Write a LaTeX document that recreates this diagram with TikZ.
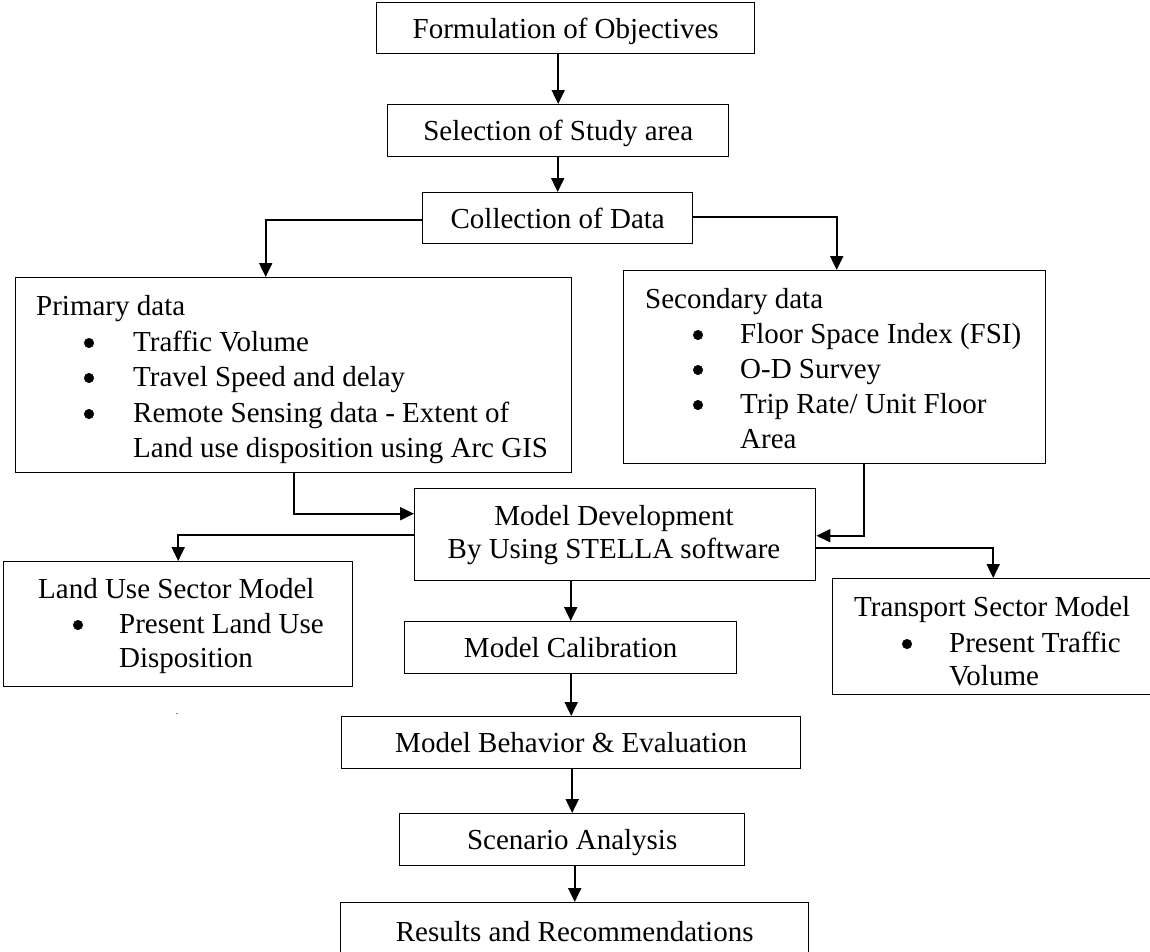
\documentclass[tikz,border=0pt]{standalone}
\usepackage{fontspec}
\setmainfont{Liberation Serif}
\usetikzlibrary{arrows.meta}

% rectangle node from its top-left corner (x1,y1) to its bottom-right corner (x2,y2)
\newcommand{\flowbox}[6]{%
  \node[box, minimum width={#4-#2}, minimum height={#5-#3}] (#1) at (#2,#3) {#6};}

\begin{document}
\begin{tikzpicture}[x=1pt,y=-1pt,
  box/.style={draw, line width=1.4pt, rectangle, inner sep=0pt, anchor=north west,
    align=center, font=\fontsize{29}{34}\selectfont, text height=20pt, text depth=0pt},
  txt/.style={inner sep=0pt, anchor=base west, font=\fontsize{29}{34}\selectfont},
  ctxt/.style={inner sep=0pt, anchor=base, font=\fontsize{29}{34}\selectfont},
  bul/.style={circle, draw=black, fill=black, line width=0.5pt, inner sep=0pt, minimum size=9.5pt},
  conn/.style={line width=2pt, -{Triangle[length=14pt,width=13pt]}},
]
\useasboundingbox (0,0) rectangle (1150,951);
\clip (0,0) rectangle (1150,951);

% main column
\flowbox{form}{376}{2}{754}{53}{Formulation of Objectives}
\flowbox{sel}{387}{104}{728}{156}{Selection of Study area}
\flowbox{coll}{422}{192}{692}{243}{Collection of Data}

% data sources
\flowbox{prim}{15}{277}{571}{472}{}
\node[txt] (primT) at (36,315) {Primary data};
\node[bul] (primB1) at (89,343) {};
\node[txt] (primL1) at (133,351) {Traffic Volume};
\node[bul] (primB2) at (89,378) {};
\node[txt] (primL2) at (133,386) {Travel Speed and delay};
\node[bul] (primB3) at (89,414) {};
\node[txt] (primL3) at (133,422) {Remote Sensing data - Extent of};
\node[txt] (primL4) at (133,457) {Land use disposition using Arc GIS};

\flowbox{sec}{623}{270}{1045}{463}{}
\node[txt] (secT) at (645,308) {Secondary data};
\node[bul] (secB1) at (698,335) {};
\node[txt] (secL1) at (740,343) {Floor Space Index (FSI)};
\node[bul] (secB2) at (698,370) {};
\node[txt] (secL2) at (740,378) {O-D Survey};
\node[bul] (secB3) at (698,405) {};
\node[txt] (secL3) at (740,413) {Trip Rate/ Unit Floor};
\node[txt] (secL4) at (740,448) {Area};

% model development and sector models
\flowbox{model}{414}{488}{815}{580}{}
\node[ctxt] (modelL1) at (614,525) {Model Development};
\node[ctxt] (modelL2) at (614,558) {By Using STELLA software};

\flowbox{land}{3}{561}{352}{686}{}
\node[txt] (landT) at (38,598) {Land Use Sector Model};
\node[bul] (landB1) at (78,625) {};
\node[txt] (landL1) at (119,633) {Present Land Use};
\node[txt] (landL2) at (119,667) {Disposition};

\flowbox{trans}{832}{578}{1153}{694}{}
\node[txt] (transT) at (854,616) {Transport Sector Model};
\node[bul] (transB1) at (907,644) {};
\node[txt] (transL1) at (949,652) {Present Traffic};
\node[txt] (transL2) at (949,685) {Volume};

\node[inner sep=0pt, font=\fontsize{10}{10}\selectfont] (dot) at (177,714) {.};

% lower column
\flowbox{calib}{404}{621}{736}{673}{Model Calibration}
\flowbox{behav}{341}{716}{800}{768}{Model Behavior \& Evaluation}
\flowbox{scen}{399}{813}{744}{865}{Scenario Analysis}
\flowbox{res}{340}{902}{808}{960}{Results and Recommendations}

% connectors
\draw[conn] (sel.north |- form.south) -- (sel.north);
\draw[conn] (coll.north |- sel.south) -- (coll.north);
\draw[conn] ([yshift=-2pt]coll.west) -| ([xshift=-28pt]prim.north);
\draw[conn] ([yshift=1pt]coll.east) -| ([xshift=2pt]sec.north);
\draw[conn] (prim.south) |- ([yshift=21pt]model.west);
\draw[conn] ([xshift=29pt]sec.south) |- ([yshift=-1pt]model.east);
\draw[conn] (model.west) -| (land.north);
\draw[conn] ([yshift=-13pt]model.east) -| (trans.north);
\draw[conn] (calib.north |- model.south) -- (calib.north);
\draw[conn] (behav.north |- calib.south) -- (behav.north);
\draw[conn] (scen.north |- behav.south) -- (scen.north);
\draw[conn] (res.north |- scen.south) -- (res.north);
\end{tikzpicture}
\end{document}
